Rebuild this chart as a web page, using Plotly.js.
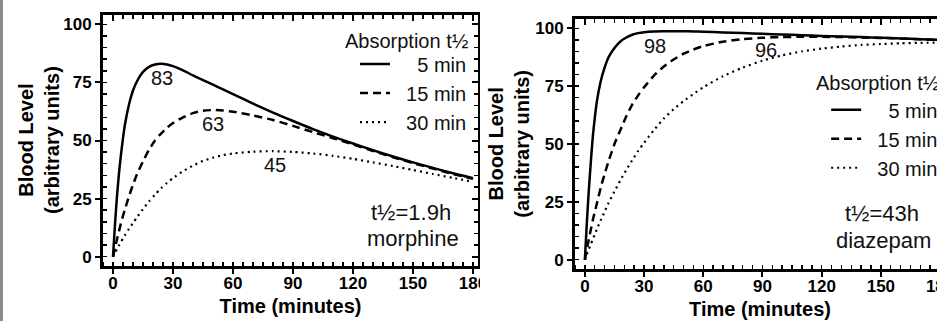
<!DOCTYPE html>
<html><head><meta charset="utf-8">
<script src="https://cdn.plot.ly/plotly-3.0.1.min.js"></script>
<style>
html,body{margin:0;padding:0;background:#fff;overflow:hidden;width:937px;height:321px;}
#bar{position:absolute;left:0;top:0;width:3px;height:321px;background:#8c8c8c;}
#wrapA{position:absolute;left:0;top:0;width:480px;height:321px;overflow:hidden;}
#wrapB{position:absolute;left:480px;top:0;width:457px;height:321px;overflow:hidden;}
</style></head><body>
<div id="wrapA"><div id="plotA"></div></div>
<div id="wrapB"><div id="plotB"></div></div>
<div id="bar"></div>
<script>
// time (minutes)
const time = [0,1,2,3,4,5,6,8,10,12,15,18,21,24,27,30,35,40,45,50,55,60,70,80,90,100,110,120,130,140,150,160,170,180];

// morphine (t1/2 = 1.9 h)
const morphine5  = [0,14,26,36,44,51,57,65.5,71.5,75.5,79.5,81.7,82.7,83,82.7,82,80.2,78,76,74,72,70,65.9,62,58.4,54.9,51.7,48.7,45.8,43.1,40.6,38.2,35.9,33.8];
const morphine15 = [0,3.8,7.5,11,14.5,17.6,20.5,26,31,35.5,41,46,50,53,55.5,57.5,60,61.8,62.8,63.1,62.9,62.4,60.8,58.8,56.3,53.6,51,48.3,45.5,42.8,40.3,37.9,35.6,33.5];
const morphine30 = [0,1.7,3.3,4.9,6.4,7.9,9.3,12,14.5,17,20.5,23.8,26.7,29.4,31.8,33.8,36.8,39.2,41.2,42.6,43.7,44.4,45.2,45.4,45.1,44.4,43.4,42.1,40.6,39,37.3,35.6,33.9,32.2];

// diazepam (t1/2 = 43 h)
const diazepam5  = [0,16,30,42,53,61,68,77,83,87.5,91.5,94.3,96,97.2,97.9,98.3,98.6,98.7,98.7,98.7,98.6,98.5,98.2,97.9,97.6,97.3,97.0,96.7,96.4,96.2,95.9,95.6,95.3,95.0];
const diazepam15 = [0,4.5,8.8,13,17,20.6,24,31,37,42.5,50,56,62,67,71,74.5,79.5,83.5,86.5,89,90.8,92.3,94.2,95.3,95.9,96.2,96.3,96.3,96.2,96,95.8,95.6,95.2,94.9];
const diazepam30 = [0,2.3,4.5,6.7,8.8,10.9,13,17,20.7,24.5,29.5,34.3,38.8,43,47,50.5,56,61,65,68.5,71.6,74.5,79.3,83,86,88.3,90,91.2,92.1,92.8,93.2,93.5,93.7,93.8];

// legend / labels
const seriesNames = ['\u00a0\u00a0\u00a0\u00a05 min','\u00a0\u00a015 min','\u00a0\u00a030 min'];
const seriesDash = ['solid','8px,5px','2px,4px'];
const legendTitle = 'Absorption t\u00bd';
const yTitle = '<b>Blood Level</b><br><b>(arbitrary units)</b>';
const xTitle = '<b>Time (minutes)</b>';
const morphinePeakLabels = ['83','63','45'];
const diazepamPeakLabels = ['98','96'];
const morphineNote = ['t\u00bd=1.9h','morphine'];
const diazepamNote = ['t\u00bd=43h','diazepam'];

const FONT = 'Liberation Sans, Arial, Helvetica, sans-serif';

function traces(series){
  const out = series.map((ys,i)=>({
    type:'scatter', mode:'lines', x:time, y:ys, name:seriesNames[i],
    line:{color:'#000', width: i===2 ? 2.2 : 2.5, dash:seriesDash[i], shape:'spline', smoothing:0.6},
    hoverinfo:'skip'
  }));
  out.push({type:'scatter', mode:'lines', x:[null], y:[null], xaxis:'x2', yaxis:'y2', showlegend:false, hoverinfo:'skip'});
  return out;
}

function axes(){
  const tickfont = {family:FONT, size:17, color:'#000', weight:'bold'};
  const common = {showgrid:false, zeroline:false, showline:true, linecolor:'#000', linewidth:3, tickcolor:'#000', tickwidth:2, fixedrange:true};
  return {
    xaxis: Object.assign({}, common, {range:[-5,182.5], tick0:0, dtick:30, ticks:'outside', ticklen:5, tickfont:tickfont, ticklabelstandoff:-5,
      minor:{dtick:5, ticks:'inside', ticklen:4, tickwidth:1.5, tickcolor:'#000'},
      title:{text:xTitle, font:{family:FONT, size:20, color:'#000'}, standoff:7}}),
    xaxis2: Object.assign({}, common, {range:[-5,182.5], overlaying:'x', side:'top', anchor:'y', tick0:0, dtick:30, ticks:'inside', ticklen:6, showticklabels:false,
      minor:{dtick:5, ticks:'inside', ticklen:4, tickwidth:1.5, tickcolor:'#000'}}),
    yaxis: Object.assign({}, common, {range:[-4,104], tick0:0, dtick:25, ticks:'outside', ticklen:5, tickfont:tickfont,
      minor:{dtick:5, ticks:'inside', ticklen:4, tickwidth:1.5, tickcolor:'#000'}}),
    yaxis2: Object.assign({}, common, {range:[-4,104], overlaying:'y', side:'right', anchor:'x', tick0:0, dtick:25, ticks:'inside', ticklen:6, showticklabels:false,
      minor:{dtick:5, ticks:'inside', ticklen:4, tickwidth:1.5, tickcolor:'#000'}})
  };
}

function ann(x,y,text,size,xanchor){
  return {x:x, y:y, xref:'x', yref:'y', text:text, showarrow:false, xanchor:xanchor||'center', yanchor:'middle',
    font:{family:FONT, size:size, color:'#111'}};
}
function yTitleAnn(xPaper){
  return {x:xPaper, y:0.5, xref:'paper', yref:'paper', text:yTitle, textangle:-90, showarrow:false,
    xanchor:'center', yanchor:'middle', font:{family:FONT, size:20, color:'#000'}};
}

// Left: morphine
const layoutA = Object.assign({
  width:520, height:321, margin:{l:103, r:42, t:15, b:55},
  paper_bgcolor:'#fff', plot_bgcolor:'#fff', showlegend:true,
  legend:{x:0.984, xanchor:'right', y:0.882, yanchor:'top', bgcolor:'rgba(0,0,0,0)', font:{family:FONT, size:20, color:'#111'}, itemwidth:30, tracegroupgap:0},
  annotations:[
    yTitleAnn(-0.172),
    ann(24.5,77,morphinePeakLabels[0],20), ann(50,57.3,morphinePeakLabels[1],20), ann(81,39.3,morphinePeakLabels[2],20),
    ann(149,19.1,morphineNote[0],22), ann(150,8.0,morphineNote[1],22),
    ann(179,93,legendTitle,20,'right')
  ]
}, axes());

// Right: diazepam
const layoutB = Object.assign({
  width:505, height:321, margin:{l:95, r:40, t:19, b:52},
  paper_bgcolor:'#fff', plot_bgcolor:'#fff', showlegend:true,
  legend:{x:0.995, xanchor:'right', y:0.715, yanchor:'top', bgcolor:'rgba(0,0,0,0)', font:{family:FONT, size:20, color:'#111'}, itemwidth:30, tracegroupgap:0},
  annotations:[
    yTitleAnn(-0.179),
    ann(35.4,92.4,diazepamPeakLabels[0],20), ann(91.9,90.7,diazepamPeakLabels[1],20),
    ann(150.5,20.1,diazepamNote[0],22), ann(151.5,8.5,diazepamNote[1],22),
    ann(181,76.5,legendTitle,20,'right')
  ]
}, axes());

const config = {staticPlot:true, displayModeBar:false};
Plotly.newPlot('plotA', traces([morphine5, morphine15, morphine30]), layoutA, config);
Plotly.newPlot('plotB', traces([diazepam5, diazepam15, diazepam30]), layoutB, config);
</script>
</body></html>
